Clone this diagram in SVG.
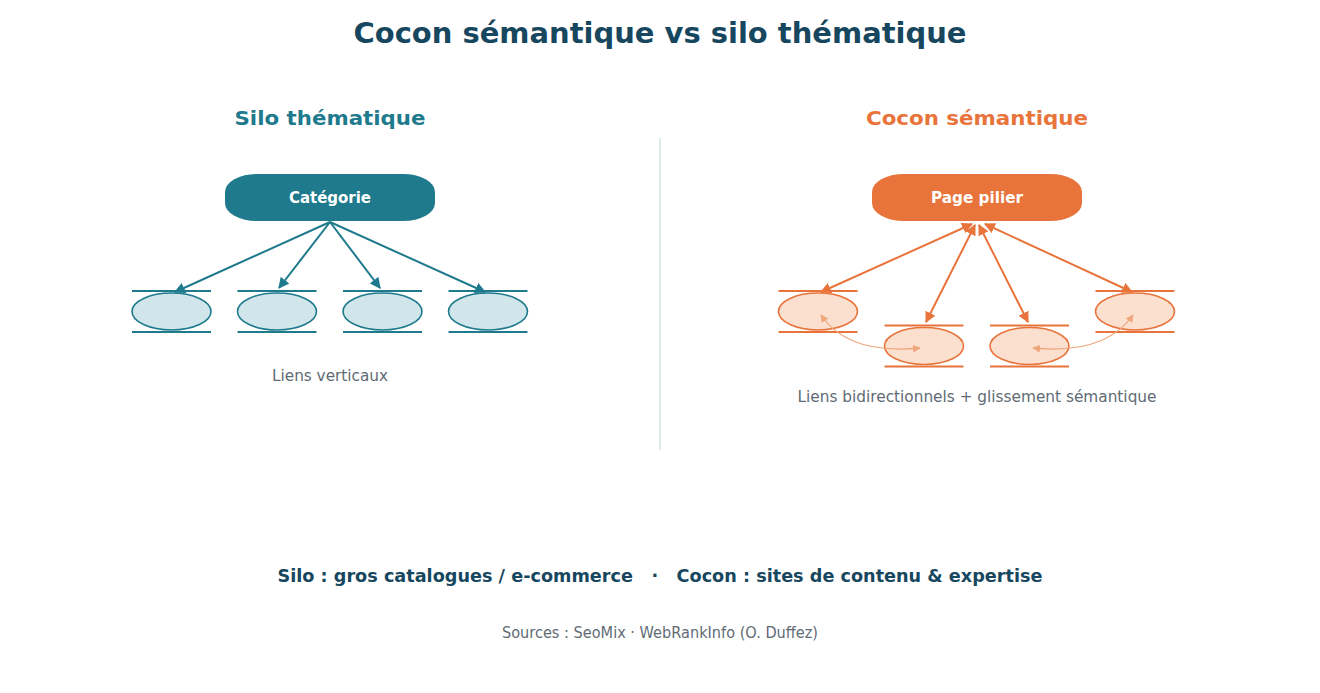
<svg xmlns="http://www.w3.org/2000/svg" width="1320" height="693" viewBox="0 0 1320 693">
<style>
text{font-family:"DejaVu Sans","Liberation Sans",sans-serif;text-anchor:middle}
.title{font-size:28px;font-weight:bold;fill:#17475e}
.sub{font-size:20px;font-weight:bold}
.lbl{font-size:15px;fill:#5f6b74}
.pill{font-size:15px;font-weight:bold;fill:#ffffff}
.tnode ellipse{fill:#d0e6ea;stroke:#1e7a8c;stroke-width:1.6}
.tnode line{stroke:#1e7a8c;stroke-width:2}
.onode ellipse{fill:#fbdfcf;stroke:#e8743b;stroke-width:1.6}
.onode line{stroke:#e8743b;stroke-width:2}
.tarr{stroke:#1e7a8c;stroke-width:2;fill:none}
.oarr{stroke:#e8743b;stroke-width:2;fill:none}
.farr{stroke:#f0a67c;stroke-width:1.3;fill:none}
</style>
<defs>
<marker id="mt" viewBox="0 0 10 10" refX="9" refY="5" markerWidth="5.5" markerHeight="5.5" orient="auto-start-reverse"><path d="M0,0 L10,5 L0,10 Z" fill="#1e7a8c"/></marker>
<marker id="mo" viewBox="0 0 10 10" refX="9" refY="5" markerWidth="5.5" markerHeight="5.5" orient="auto-start-reverse"><path d="M0,0 L10,5 L0,10 Z" fill="#e8743b"/></marker>
<marker id="mf" viewBox="0 0 10 10" refX="9" refY="5" markerWidth="6" markerHeight="6" orient="auto-start-reverse"><path d="M0,0 L10,5 L0,10 Z" fill="#f0a67c"/></marker>
</defs>
<rect width="1320" height="693" fill="#ffffff"/>
<text class="title" x="660" y="43" textLength="613" lengthAdjust="spacingAndGlyphs">Cocon sémantique vs silo thématique</text>
<text class="sub" x="330" y="125" fill="#1e7a8c" textLength="191" lengthAdjust="spacingAndGlyphs">Silo thématique</text>
<text class="sub" x="977" y="125" fill="#e8743b" textLength="222" lengthAdjust="spacingAndGlyphs">Cocon sémantique</text>
<line x1="660" y1="138" x2="660" y2="450" stroke="#dfeaec" stroke-width="2"/>
<g id="n-categorie">
<rect x="225" y="174" width="210" height="47" rx="32" ry="18" fill="#1e7a8c"/>
<text class="pill" x="330" y="203" textLength="82" lengthAdjust="spacingAndGlyphs">Catégorie</text>
</g>
<g id="n-t1" class="tnode"><line x1="132" y1="291" x2="211" y2="291"/><line x1="132" y1="332" x2="211" y2="332"/><ellipse cx="171.5" cy="311.5" rx="39.5" ry="18.5"/></g>
<g id="n-t2" class="tnode"><line x1="237.5" y1="291" x2="316.5" y2="291"/><line x1="237.5" y1="332" x2="316.5" y2="332"/><ellipse cx="277" cy="311.5" rx="39.5" ry="18.5"/></g>
<g id="n-t3" class="tnode"><line x1="343" y1="291" x2="422" y2="291"/><line x1="343" y1="332" x2="422" y2="332"/><ellipse cx="382.5" cy="311.5" rx="39.5" ry="18.5"/></g>
<g id="n-t4" class="tnode"><line x1="448.5" y1="291" x2="527.5" y2="291"/><line x1="448.5" y1="332" x2="527.5" y2="332"/><ellipse cx="488" cy="311.5" rx="39.5" ry="18.5"/></g>
<text class="lbl" x="330" y="381" textLength="116" lengthAdjust="spacingAndGlyphs">Liens verticaux</text>
<g id="n-pilier">
<rect x="872" y="174" width="210" height="47" rx="32" ry="18" fill="#e8743b"/>
<text class="pill" x="977" y="203" textLength="92" lengthAdjust="spacingAndGlyphs">Page pilier</text>
</g>
<g id="n-o1" class="onode"><line x1="778.5" y1="291" x2="857.5" y2="291"/><line x1="778.5" y1="332" x2="857.5" y2="332"/><ellipse cx="818" cy="311.5" rx="39.5" ry="18.5"/></g>
<g id="n-o2" class="onode"><line x1="884.5" y1="325.5" x2="963.5" y2="325.5"/><line x1="884.5" y1="366.5" x2="963.5" y2="366.5"/><ellipse cx="924" cy="346" rx="39.5" ry="18.5"/></g>
<g id="n-o3" class="onode"><line x1="990" y1="325.5" x2="1069" y2="325.5"/><line x1="990" y1="366.5" x2="1069" y2="366.5"/><ellipse cx="1029.5" cy="346" rx="39.5" ry="18.5"/></g>
<g id="n-o4" class="onode"><line x1="1095.5" y1="291" x2="1174.5" y2="291"/><line x1="1095.5" y1="332" x2="1174.5" y2="332"/><ellipse cx="1135" cy="311.5" rx="39.5" ry="18.5"/></g>
<text class="lbl" x="977" y="402" textLength="359" lengthAdjust="spacingAndGlyphs">Liens bidirectionnels + glissement sémantique</text>
<g id="connectors">
<line class="tarr" x1="330" y1="222" x2="175" y2="292" marker-end="url(#mt)"/>
<line class="tarr" x1="330" y1="222" x2="279" y2="288" marker-end="url(#mt)"/>
<line class="tarr" x1="330" y1="222" x2="380" y2="288" marker-end="url(#mt)"/>
<line class="tarr" x1="330" y1="222" x2="485" y2="292" marker-end="url(#mt)"/>
<line class="oarr" x1="972" y1="224" x2="821" y2="292" marker-start="url(#mo)" marker-end="url(#mo)"/>
<line class="oarr" x1="975" y1="225" x2="926" y2="322" marker-start="url(#mo)" marker-end="url(#mo)"/>
<line class="oarr" x1="979" y1="225" x2="1028" y2="322" marker-start="url(#mo)" marker-end="url(#mo)"/>
<line class="oarr" x1="985" y1="224" x2="1132" y2="292" marker-start="url(#mo)" marker-end="url(#mo)"/>
<path class="farr" d="M821,315 Q848,355 920,348" marker-start="url(#mf)" marker-end="url(#mf)"/>
<path class="farr" d="M1133,315 Q1105,355 1033,348" marker-start="url(#mf)" marker-end="url(#mf)"/>
</g>
<text x="660" y="582" font-size="17" font-weight="bold" fill="#17475e" textLength="765" lengthAdjust="spacingAndGlyphs" xml:space="preserve">Silo : gros catalogues / e-commerce   ·   Cocon : sites de contenu &amp; expertise</text>
<text class="lbl" x="660" y="638" font-size="14" textLength="316" lengthAdjust="spacingAndGlyphs">Sources : SeoMix · WebRankInfo (O. Duffez)</text>
</svg>
